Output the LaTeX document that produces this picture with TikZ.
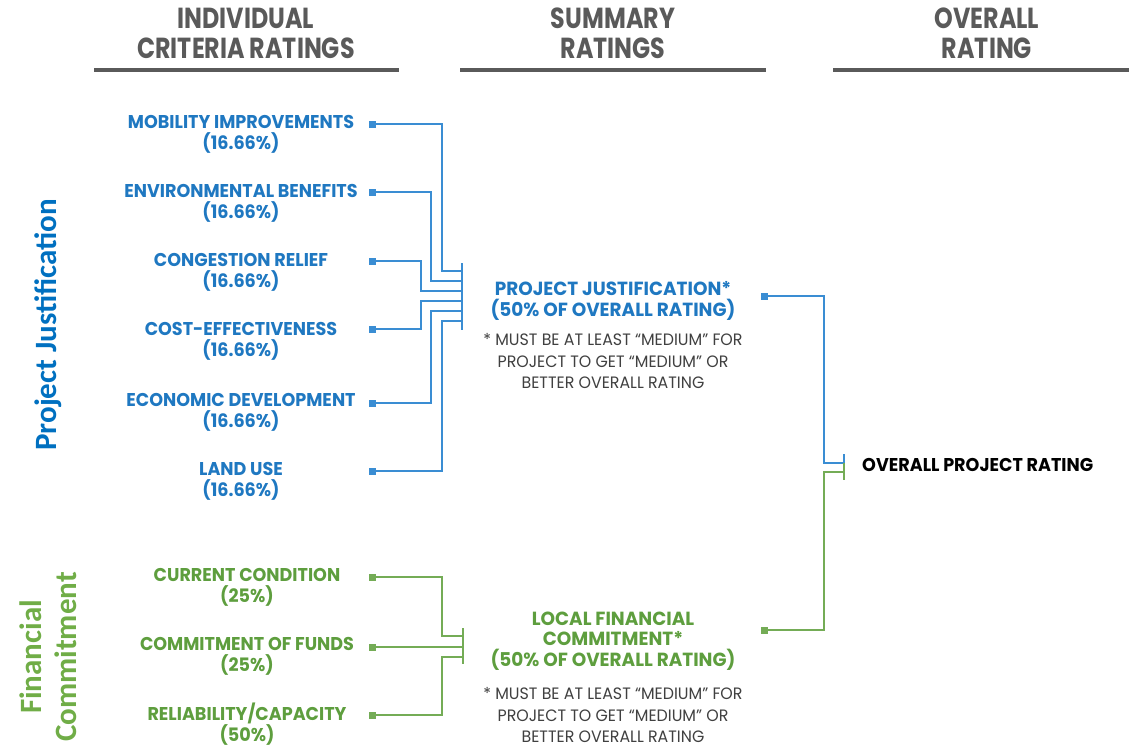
\documentclass[tikz,border=0pt]{standalone}
\usepackage{fontspec}
\setmainfont{Poppins}
\newfontfamily\hdfont[FakeStretch=0.82]{Poppins}
\newfontfamily\itemfont[FakeStretch=0.95]{Poppins}
\newfontfamily\sumfont[FakeStretch=0.97]{Poppins}
\newfontfamily\notefont[FakeStretch=0.96]{Poppins}
\newfontfamily\lblfont{Carlito}
\definecolor{pjtext}{HTML}{1F78C1}
\definecolor{pjline}{HTML}{3A8DD3}
\definecolor{fctext}{HTML}{5E9E3E}
\definecolor{fcline}{HTML}{74AC56}
\definecolor{hdgray}{HTML}{5A5A5A}
\definecolor{notegray}{HTML}{404040}
\definecolor{offblue}{HTML}{0070C0}
\definecolor{offgreen}{HTML}{70AD47}
\begin{document}
\begin{tikzpicture}[x=1pt,y=-1pt,
  hd/.style={font=\hdfont\bfseries\fontsize{29}{30}\selectfont, text=hdgray, align=center, inner sep=0},
  rulebar/.style={line width=3.5pt, draw=hdgray},
  pjitem/.style={font=\itemfont\bfseries\fontsize{18.5}{21}\selectfont, text=pjtext, align=center, inner sep=0},
  fcitem/.style={font=\itemfont\bfseries\fontsize{18.5}{21}\selectfont, text=fctext, align=center, inner sep=0},
  sumtext/.style={font=\sumfont\bfseries\fontsize{19}{20.5}\selectfont, align=center, inner sep=0},
  note/.style={font=\notefont\fontsize{16.5}{21.5}\selectfont, text=notegray, align=center, inner sep=0},
  bsq/.style={fill=pjline, minimum size=7pt, inner sep=0},
  gsq/.style={fill=fcline, minimum size=7pt, inner sep=0},
  bline/.style={draw=pjline, line width=1.6pt},
  gline/.style={draw=fcline, line width=1.6pt},
  sidelbl/.style={font=\lblfont\bfseries\fontsize{31}{35}\selectfont, rotate=90, align=center, inner sep=0}
]
\useasboundingbox (0,0) rectangle (1129,748);

% headers
\node[hd] (h1) at (246,33) {INDIVIDUAL\\CRITERIA RATINGS};
\node[hd] (h2) at (613,33) {SUMMARY\\RATINGS};
\node[hd] (h3) at (987,33) {OVERALL\\RATING};
\draw[rulebar] (94,70) -- (399,70);
\draw[rulebar] (460,70) -- (766,70);
\draw[rulebar] (833,70) -- (1129,70);

% side labels
\node[sidelbl, text=offblue] (pjl) at (48,325) {Project Justification};
\node[sidelbl, text=offgreen] (fcl) at (48,657) {Financial\\Commitment};

% project justification items
\node[pjitem] (i1) at (241,134.5) {MOBILITY IMPROVEMENTS\\(16.66\%)};
\node[pjitem] (i2) at (241,203.5) {ENVIRONMENTAL BENEFITS\\(16.66\%)};
\node[pjitem] (i3) at (241,272.5) {CONGESTION RELIEF\\(16.66\%)};
\node[pjitem] (i4) at (241,341.5) {COST-EFFECTIVENESS\\(16.66\%)};
\node[pjitem] (i5) at (241,412.5) {ECONOMIC DEVELOPMENT\\(16.66\%)};
\node[pjitem] (i6) at (241,481.5) {LAND USE\\(16.66\%)};

\node[bsq] (s1) at (372,124) {};
\node[bsq] (s2) at (372,192) {};
\node[bsq] (s3) at (372,261) {};
\node[bsq] (s4) at (372,329) {};
\node[bsq] (s5) at (372,403) {};
\node[bsq] (s6) at (372,471) {};

\coordinate (c1) at (442,271); \coordinate (b1) at (462,271);
\coordinate (c2) at (431,281); \coordinate (b2) at (462,281);
\coordinate (c3) at (421,291); \coordinate (b3) at (462,291);
\coordinate (c4) at (421,301); \coordinate (b4) at (462,301);
\coordinate (c5) at (431,311); \coordinate (b5) at (462,311);
\coordinate (c6) at (442,321); \coordinate (b6) at (462,321);
\coordinate (bt) at (462,263); \coordinate (bb) at (462,330);

\draw[bline] (s1.center) -| (c1) -- (b1);
\draw[bline] (s2.center) -| (c2) -- (b2);
\draw[bline] (s3.center) -| (c3) -- (b3);
\draw[bline] (s4.center) -| (c4) -- (b4);
\draw[bline] (s5.center) -| (c5) -- (b5);
\draw[bline] (s6.center) -| (c6) -- (b6);
\draw[bline] (bt) -- (bb);

% financial items
\node[fcitem] (f1) at (247,587.5) {CURRENT CONDITION\\(25\%)};
\node[fcitem] (f2) at (247,656.5) {COMMITMENT OF FUNDS\\(25\%)};
\node[fcitem] (f3) at (247,724.5) {RELIABILITY/CAPACITY\\(50\%)};

\node[gsq] (g1) at (372,577) {};
\node[gsq] (g2) at (372,647) {};
\node[gsq] (g3) at (372,715) {};

\coordinate (d1) at (442,636); \coordinate (e1) at (463,636);
\coordinate (e2) at (463,647);
\coordinate (d3) at (442,657); \coordinate (e3) at (463,657);
\coordinate (gt) at (463,628); \coordinate (gb) at (463,664);

\draw[gline] (g1.center) -| (d1) -- (e1);
\draw[gline] (g2.center) -- (e2);
\draw[gline] (g3.center) -| (d3) -- (e3);
\draw[gline] (gt) -- (gb);

% summary
\node[sumtext, text=pjtext] (pj) at (613,301) {PROJECT JUSTIFICATION*\\(50\% OF OVERALL RATING)};
\node[note] (pjn) at (613,361) {* MUST BE AT LEAST “MEDIUM” FOR\\PROJECT TO GET “MEDIUM” OR\\BETTER OVERALL RATING};
\node[sumtext, text=fctext] (lf) at (613,641) {LOCAL FINANCIAL\\COMMITMENT*\\(50\% OF OVERALL RATING)};
\node[note] (lfn) at (613,715) {* MUST BE AT LEAST “MEDIUM” FOR\\PROJECT TO GET “MEDIUM” OR\\BETTER OVERALL RATING};

\node[bsq] (sj) at (764,296) {};
\node[gsq] (sf) at (764,630) {};
\coordinate (oj) at (824,463); \coordinate (ob) at (844,463);
\coordinate (of) at (824,472); \coordinate (obg) at (844,472);
\coordinate (obt) at (844,454); \coordinate (obb) at (844,480);

\draw[bline] (sj.center) -| (oj) -- (ob);
\draw[gline] (sf.center) -| (of) -- (obg);
\draw[bline] (obt) -- (ob);
\draw[gline] (ob) -- (obb);

\node[anchor=west, font=\itemfont\bfseries\fontsize{18.5}{20}\selectfont, text=black, inner sep=0] (ov) at (862,465) {OVERALL PROJECT RATING};
\end{tikzpicture}
\end{document}
